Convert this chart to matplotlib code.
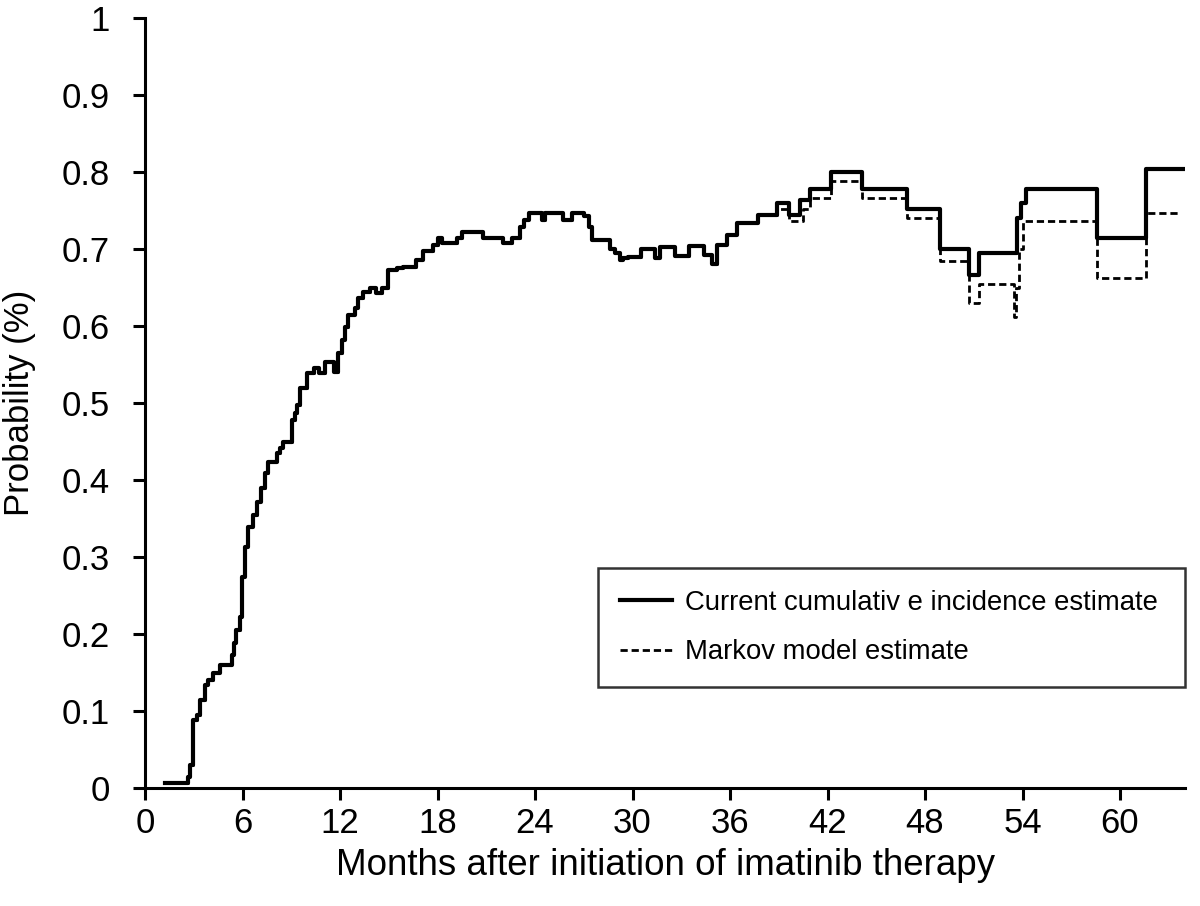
import numpy as np
import matplotlib.pyplot as plt

plt.rcParams['font.family'] = ['Liberation Sans', 'DejaVu Sans']

# cumulative incidence (solid), step function, months -> probability
ci_months = [1.2, 2.65, 2.77, 2.96, 3.2, 3.39, 3.7, 3.9, 4.2, 4.6, 5.36, 5.5, 5.62, 5.85,
             5.97, 6.16, 6.34, 6.65, 6.9, 7.14, 7.39, 7.57, 8.1, 8.3, 8.5, 9.05, 9.2, 9.36,
             9.54, 9.97, 10.4, 10.7, 11.08, 11.6, 11.9, 12.1, 12.3, 12.5, 12.9, 13.1, 13.4,
             13.85, 14.2, 14.6, 14.96, 15.5, 15.9, 16.7, 17.1, 17.7, 18.0, 18.3, 19.2, 19.5,
             20.8, 22.0, 22.6, 23.1, 23.3, 23.6, 24.4, 24.6, 25.7, 26.3, 27.0, 27.3, 27.5,
             28.6, 28.9, 29.2, 29.4, 29.7, 30.5, 31.4, 31.7, 32.6, 33.5, 34.4, 34.9, 35.2,
             35.8, 36.45, 37.7, 38.9, 39.6, 40.3, 40.9, 42.2, 44.1, 46.9, 48.9, 50.7, 51.3,
             53.65, 53.9, 54.2, 58.6, 61.6, 63.9]
ci_prob = [0.007, 0.014, 0.03, 0.088, 0.095, 0.114, 0.134, 0.14, 0.149, 0.16, 0.173, 0.188,
           0.205, 0.222, 0.274, 0.313, 0.339, 0.355, 0.372, 0.39, 0.409, 0.424, 0.435, 0.441,
           0.449, 0.478, 0.487, 0.497, 0.519, 0.539, 0.545, 0.539, 0.553, 0.54, 0.565, 0.582,
           0.599, 0.614, 0.623, 0.636, 0.644, 0.65, 0.643, 0.649, 0.673, 0.675, 0.677, 0.686,
           0.697, 0.705, 0.714, 0.708, 0.714, 0.722, 0.714, 0.708, 0.714, 0.729, 0.738, 0.747,
           0.738, 0.747, 0.738, 0.747, 0.743, 0.729, 0.712, 0.70, 0.695, 0.686, 0.688, 0.69,
           0.70, 0.688, 0.702, 0.691, 0.704, 0.692, 0.68, 0.705, 0.718, 0.734, 0.744, 0.76,
           0.744, 0.764, 0.778, 0.80, 0.778, 0.752, 0.70, 0.666, 0.695, 0.74, 0.76, 0.778,
           0.714, 0.804, 0.804]

# Markov model estimate (dashed), only where it separates from the solid curve
mk_months = [38.9, 39.6, 40.5, 40.9, 42.2, 44.1, 46.9, 48.9, 50.7, 51.3, 53.45, 53.6, 53.8,
             54.0, 58.6, 61.6, 63.6]
mk_prob = [0.752, 0.736, 0.752, 0.766, 0.788, 0.766, 0.740, 0.684, 0.630, 0.654, 0.612,
           0.65, 0.70, 0.736, 0.662, 0.747, 0.747]

n_shared = ci_months.index(38.9)
mk_x = ci_months[:n_shared] + mk_months
mk_y = ci_prob[:n_shared] + mk_prob

fig = plt.figure(figsize=(12, 9.06), dpi=100)
ax = fig.add_axes([145/1200, 1 - 788/906, 1040/1200, 770/906])

ax.step(mk_x, mk_y, where='post', color='black', lw=2.0, linestyle=(0, (2.6, 1.4)),
        label='Markov model estimate')
ax.step(ci_months, ci_prob, where='post', color='black', lw=3.0,
        label='Current cumulativ e incidence estimate')

ax.set_xlim(0, 64)
ax.set_ylim(0, 1)
ax.set_xticks(np.arange(0, 61, 6))
ax.set_yticks(np.arange(0, 1.01, 0.1))
ax.set_yticklabels(['0', '0.1', '0.2', '0.3', '0.4', '0.5', '0.6', '0.7', '0.8', '0.9', '1'])
for s in ['top', 'right']:
    ax.spines[s].set_visible(False)
for s in ['left', 'bottom']:
    ax.spines[s].set_linewidth(2.2)
ax.tick_params(direction='out', length=8.5, width=2.2, labelsize=25)
ax.tick_params(axis='y', pad=17)
ax.tick_params(axis='x', pad=5)
ax.set_xlabel('Months after initiation of imatinib therapy', fontsize=26.5, labelpad=6)
ax.set_ylabel('Probability (%)', fontsize=25, labelpad=18)

h, l = ax.get_legend_handles_labels()
leg = ax.legend(h[::-1], l[::-1], loc='center', bbox_to_anchor=(0.4356, 0.125, 0.5644, 0.167),
                mode='expand', fontsize=19.8, frameon=True, fancybox=False, handlelength=1.9,
                borderpad=0.8, labelspacing=0.85, handletextpad=0.45, borderaxespad=0)
leg.get_frame().set_edgecolor('black')
leg.get_frame().set_linewidth(1.8)

fig.savefig('out.png', dpi=100)
